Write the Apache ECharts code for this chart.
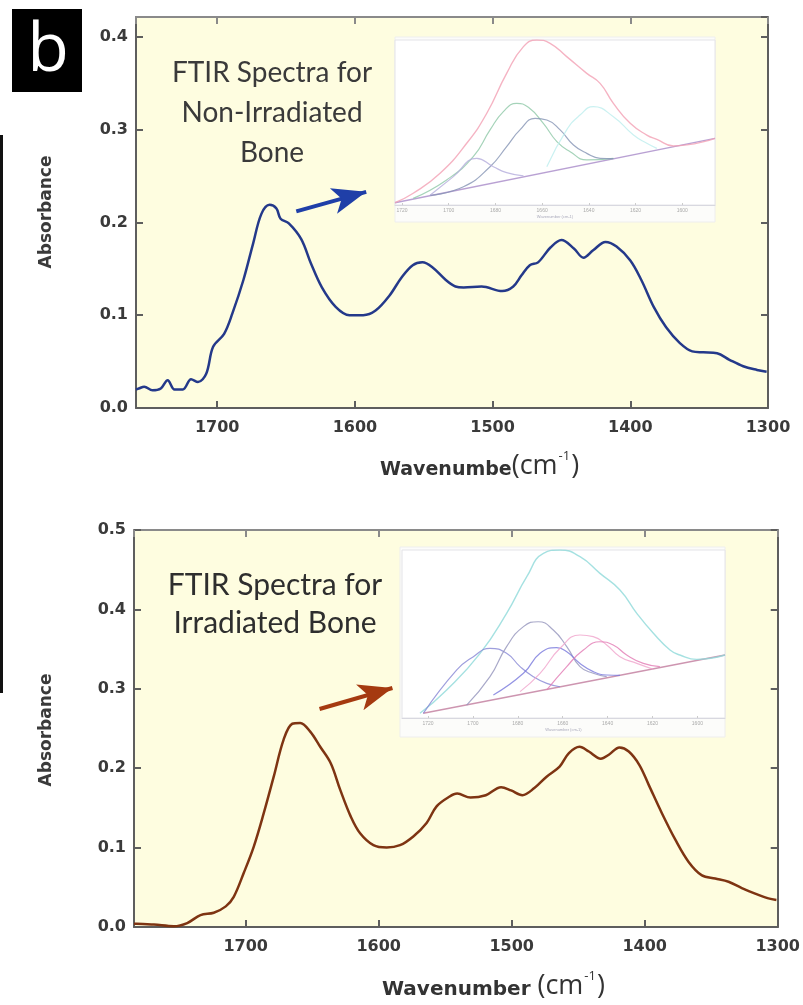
<!DOCTYPE html>
<html>
<head>
<meta charset="utf-8">
<script src="https://cdn.jsdelivr.net/npm/echarts@6/dist/echarts.min.js"></script>
<style>
  html, body { margin: 0; padding: 0; background: #fff; }
  #main { width: 803px; height: 1005px; }
</style>
</head>
<body>
<div id="main"></div>
<script>
// main spectra (wavenumber, absorbance)
const nonIrrWn = [1759, 1757, 1753, 1747, 1741, 1736, 1731, 1725, 1719, 1714, 1708, 1703, 1695, 1689, 1681, 1674, 1668, 1662, 1657, 1654, 1648, 1639, 1632, 1624, 1614, 1604, 1594, 1585, 1575, 1566, 1558, 1551, 1544, 1534, 1527, 1521, 1508, 1493, 1485, 1479, 1473, 1467, 1458, 1450, 1441, 1434, 1427, 1418, 1410, 1400, 1392, 1383, 1374, 1364, 1355, 1347, 1337, 1328, 1318, 1308, 1301];
const nonIrrAbs = [0.020, 0.021, 0.023, 0.019, 0.021, 0.030, 0.020, 0.020, 0.031, 0.028, 0.037, 0.066, 0.080, 0.102, 0.138, 0.177, 0.209, 0.219, 0.215, 0.204, 0.199, 0.182, 0.156, 0.130, 0.109, 0.100, 0.100, 0.105, 0.121, 0.141, 0.154, 0.157, 0.152, 0.138, 0.131, 0.130, 0.131, 0.126, 0.131, 0.143, 0.154, 0.157, 0.173, 0.181, 0.172, 0.162, 0.170, 0.179, 0.174, 0.159, 0.138, 0.109, 0.087, 0.070, 0.061, 0.060, 0.059, 0.052, 0.045, 0.041, 0.039];

const irrWn = [1784, 1782, 1769, 1754, 1744, 1734, 1724, 1715, 1709, 1701.5, 1694, 1686.5, 1679, 1671.5, 1665, 1659, 1651.5, 1644, 1636, 1629, 1621, 1614, 1604, 1594, 1584, 1574, 1564, 1556.5, 1547, 1541, 1531, 1519.5, 1508, 1500.5, 1492, 1483, 1474, 1464, 1457, 1449, 1442, 1433, 1427, 1419, 1412, 1404, 1397, 1387, 1377, 1367, 1357, 1347, 1337, 1327, 1317, 1307, 1301];
const irrAbs = [0.004, 0.004, 0.003, 0.001, 0.005, 0.015, 0.018, 0.026, 0.038, 0.068, 0.101, 0.143, 0.189, 0.236, 0.256, 0.257, 0.246, 0.227, 0.206, 0.173, 0.139, 0.118, 0.103, 0.100, 0.103, 0.114, 0.131, 0.152, 0.164, 0.168, 0.163, 0.166, 0.176, 0.172, 0.166, 0.175, 0.189, 0.202, 0.219, 0.227, 0.221, 0.212, 0.217, 0.226, 0.221, 0.204, 0.179, 0.143, 0.110, 0.082, 0.065, 0.061, 0.057, 0.049, 0.042, 0.036, 0.034];

// inset 1: band fitting of non-irradiated bone (normalised)
const in1Base = [[1723, 0.014], [1586, 0.404]];
const in1Envelope = [[1723, 0.014], [1715.2, 0.071], [1703.7, 0.192], [1692.3, 0.374], [1683.7, 0.556], [1675.2, 0.798], [1668.0, 0.960], [1662.3, 1.0], [1656.6, 0.980], [1649.5, 0.899], [1640.9, 0.798], [1635.2, 0.737], [1629.5, 0.616], [1622.3, 0.495], [1615.2, 0.424], [1610.9, 0.398], [1603.8, 0.358], [1586, 0.404]];
const in1Green = [[1715.2, 0.040], [1700.9, 0.152], [1689.5, 0.293], [1682.3, 0.455], [1676.6, 0.566], [1670.9, 0.616], [1665.9, 0.592], [1659.5, 0.495], [1653.7, 0.384], [1648.0, 0.323], [1640.9, 0.273], [1629.5, 0.283]];
const in1Slate = [[1708, 0.058], [1693.7, 0.111], [1682.3, 0.232], [1675.2, 0.354], [1669.5, 0.455], [1663.0, 0.525], [1658.0, 0.515], [1652.3, 0.455], [1646.6, 0.364], [1640.9, 0.313], [1635.2, 0.283], [1629.5, 0.281]];
const in1Lav = [[1708, 0.059], [1698, 0.172], [1688, 0.283], [1680.9, 0.232], [1675.2, 0.196], [1668, 0.176]];
const in1Cyan = [[1658.0, 0.232], [1649.5, 0.455], [1643.8, 0.545], [1638.1, 0.596], [1629.5, 0.535], [1620.9, 0.424], [1615.2, 0.374], [1610.9, 0.343]];

// inset 2: band fitting of irradiated bone (normalised)
const in2Base = [[1722.1, 0.028], [1587.7, 0.375]];
const in2Envelope = [[1723.6, 0.028], [1711.7, 0.167], [1696.8, 0.385], [1685.0, 0.623], [1676.0, 0.841], [1668.6, 0.980], [1661.2, 1.0], [1652.3, 0.960], [1643.4, 0.861], [1634.5, 0.762], [1627.0, 0.623], [1619.6, 0.504], [1612.2, 0.405], [1607.8, 0.375], [1600.3, 0.349], [1587.7, 0.375]];
const in2Violet = [[1722.1, 0.028], [1707.2, 0.286], [1699.8, 0.365], [1692.4, 0.415], [1685.0, 0.385], [1679.0, 0.306], [1673.1, 0.246], [1667.1, 0.206], [1661.2, 0.186]];
const in2Gray = [[1702.8, 0.077], [1692.4, 0.246], [1685.0, 0.425], [1677.5, 0.544], [1670.9, 0.573], [1664.2, 0.524], [1658.2, 0.425], [1652.3, 0.306], [1646.4, 0.266], [1640.4, 0.246]];
const in2Blue = [[1690.9, 0.137], [1677.5, 0.266], [1670.1, 0.385], [1662.7, 0.419], [1658.2, 0.395], [1652.3, 0.325], [1646.4, 0.276], [1640.4, 0.256], [1634.5, 0.254]];
const in2Pink = [[1679.0, 0.157], [1670.1, 0.266], [1661.2, 0.415], [1652.3, 0.494], [1646.4, 0.484], [1640.4, 0.435], [1634.5, 0.365], [1627.0, 0.325], [1619.6, 0.290]];
const in2Magenta = [[1667.1, 0.167], [1658.2, 0.306], [1650.8, 0.405], [1643.4, 0.454], [1637.5, 0.435], [1631.5, 0.375], [1624.1, 0.325], [1616.7, 0.306]];
const insetTicks = [1720, 1700, 1680, 1660, 1640, 1620, 1600];

const zip = (xs, ys) => xs.map((x, i) => [x, ys[i]]);

let myChart = echarts.init(document.getElementById('main'));

const axisColor = '#5e5e5e';
const labelFont = {fontFamily: 'DejaVu Sans', fontWeight: 'bold', fontSize: 16, color: '#3a3a3a'};

function mainX(gridIndex, max) {
  return [
    {
      type: 'value', gridIndex: gridIndex, min: 1300, max: max, interval: 100, inverse: true,
      axisLine: {onZero: false, lineStyle: {color: axisColor, width: 2}},
      axisTick: {inside: true, length: 7, lineStyle: {color: axisColor, width: 2}},
      axisLabel: Object.assign({margin: 12, formatter: v => (v % 100 === 0 ? String(v) : '')}, labelFont),
      splitLine: {show: false}
    },
    {
      type: 'value', gridIndex: gridIndex, position: 'top', min: 1300, max: max, interval: 100, inverse: true,
      axisLine: {onZero: false, lineStyle: {color: '#8a8a8a', width: 2}},
      axisTick: {inside: true, length: 7, lineStyle: {color: '#8a8a8a', width: 2}},
      axisLabel: {show: false},
      splitLine: {show: false}
    }
  ];
}

function mainY(gridIndex, max) {
  return [
    {
      type: 'value', gridIndex: gridIndex, min: 0, max: max, interval: 0.1,
      axisLine: {show: true, onZero: false, lineStyle: {color: axisColor, width: 2}},
      axisTick: {show: true, inside: true, length: 7, lineStyle: {color: axisColor, width: 2}},
      axisLabel: Object.assign({margin: 8, showMaxLabel: max === 0.5, formatter: v => v.toFixed(1)}, labelFont),
      splitLine: {show: false}
    },
    {
      type: 'value', gridIndex: gridIndex, position: 'right', min: 0, max: max, interval: 0.1,
      axisLine: {show: true, onZero: false, lineStyle: {color: axisColor, width: 2}},
      axisTick: {show: true, inside: true, length: 7, lineStyle: {color: axisColor, width: 2}},
      axisLabel: {show: false},
      splitLine: {show: false}
    }
  ];
}

function insetX(gridIndex, min, max) {
  return {
    type: 'value', gridIndex: gridIndex, min: min, max: max, inverse: true, z: 3,
    axisLine: {onZero: false, lineStyle: {color: '#d8d8e0', width: 1}},
    axisTick: {show: true, inside: true, length: 2, customValues: insetTicks, lineStyle: {color: '#ccc'}},
    axisLabel: {customValues: insetTicks, fontSize: 5, color: '#aaa', margin: 3, formatter: v => String(v)},
    name: 'Wavenumber (cm-1)', nameLocation: 'middle', nameGap: 10,
    nameTextStyle: {fontSize: 4, color: '#aab'},
    splitLine: {show: false}
  };
}

function insetY(gridIndex) {
  return {
    type: 'value', gridIndex: gridIndex, min: 0, max: 1, z: 3,
    axisLine: {show: false}, axisTick: {show: false}, axisLabel: {show: false}, splitLine: {show: false}
  };
}

function thin(name, data, xi, color, width) {
  return {
    name: name, type: 'line', xAxisIndex: xi, yAxisIndex: xi, data: data, z: 4,
    symbol: 'none', smooth: 0.5, lineStyle: {color: color, width: width || 1.2, opacity: 0.8}
  };
}

const option = {
  animation: false,
  backgroundColor: '#ffffff',
  grid: [
    {left: 136, top: 17, width: 632, height: 391, show: true, backgroundColor: '#fefde0', borderWidth: 0},
    {left: 134, top: 530, width: 645, height: 397, show: true, backgroundColor: '#fefde0', borderWidth: 0},
    {left: 395, top: 40, width: 320, height: 165, show: true, backgroundColor: '#ffffff', borderColor: '#e4e4e8', borderWidth: 1, z: 2},
    {left: 402, top: 550, width: 323, height: 168, show: true, backgroundColor: '#ffffff', borderColor: '#e4e4e8', borderWidth: 1, z: 2}
  ],
  xAxis: [
    ...mainX(0, 1759),
    ...mainX(1, 1784),
    insetX(2, 1586, 1723),
    insetX(3, 1587.7, 1731.6)
  ],
  yAxis: [
    ...mainY(0, 0.4215),
    ...mainY(1, 0.5),
    insetY(2),
    insetY(3)
  ],
  graphic: [
    // panel letter
    {type: 'rect', shape: {x: 12, y: 9, width: 70, height: 83}, style: {fill: '#000'}},
    {type: 'text', x: 48, y: 52, style: {text: 'b', fontFamily: 'Open Sans', fontSize: 68, fill: '#fff', align: 'center', verticalAlign: 'middle'}},
    // black bar on the left edge
    {type: 'rect', shape: {x: 0, y: 135, width: 3, height: 558}, style: {fill: '#111'}},
    // inset frames
    {type: 'rect', z: 1, shape: {x: 395, y: 37, width: 320, height: 185}, style: {fill: '#fcfcfa', stroke: '#eeeeee', lineWidth: 1}},
    {type: 'rect', z: 1, shape: {x: 400, y: 547, width: 325, height: 190}, style: {fill: '#fcfcfa', stroke: '#eeeeee', lineWidth: 1}},
    // panel inscriptions
    {type: 'text', x: 272, y: 113, style: {text: 'FTIR Spectra for\nNon-Irradiated\nBone', fontFamily: 'Lato', fontSize: 28, lineHeight: 40, fill: '#3a3a3a', align: 'center', verticalAlign: 'middle'}},
    {type: 'text', x: 275, y: 604, style: {text: 'FTIR Spectra for\nIrradiated Bone', fontFamily: 'Lato', fontSize: 30, lineHeight: 38, fill: '#2e2e2e', align: 'center', verticalAlign: 'middle'}},
    // axis titles
    {type: 'text', x: 47, y: 212, rotation: Math.PI / 2, style: {text: 'Absorbance', fontFamily: 'DejaVu Sans', fontWeight: 'bold', fontSize: 17, fill: '#3a3a3a', align: 'center', verticalAlign: 'middle'}},
    {type: 'text', x: 47, y: 730, rotation: Math.PI / 2, style: {text: 'Absorbance', fontFamily: 'DejaVu Sans', fontWeight: 'bold', fontSize: 17, fill: '#3a3a3a', align: 'center', verticalAlign: 'middle'}},
    {
      type: 'text', x: 380, y: 463,
      style: {
        text: '{b|Wavenumbe}{c|(cm}{s|-1}{c|)}', align: 'left', verticalAlign: 'middle',
        rich: {
          b: {fontFamily: 'DejaVu Sans', fontWeight: 'bold', fontSize: 19, fill: '#333', lineHeight: 34, verticalAlign: 'bottom'},
          c: {fontFamily: 'Open Sans', fontSize: 27, fill: '#333', lineHeight: 34, verticalAlign: 'bottom'},
          s: {fontFamily: 'Open Sans', fontSize: 13, fill: '#333', lineHeight: 34, verticalAlign: 'top', padding: [4, 1, 0, 1]}
        }
      }
    },
    {
      type: 'text', x: 382, y: 983,
      style: {
        text: '{b|Wavenumber }{c|(cm}{s|-1}{c|)}', align: 'left', verticalAlign: 'middle',
        rich: {
          b: {fontFamily: 'DejaVu Sans', fontWeight: 'bold', fontSize: 20, fill: '#333', lineHeight: 34, verticalAlign: 'bottom'},
          c: {fontFamily: 'Open Sans', fontSize: 27, fill: '#333', lineHeight: 34, verticalAlign: 'bottom'},
          s: {fontFamily: 'Open Sans', fontSize: 13, fill: '#333', lineHeight: 34, verticalAlign: 'top', padding: [4, 1, 0, 1]}
        }
      }
    }
  ],
  series: [
    {
      name: 'Non-Irradiated', type: 'line', xAxisIndex: 0, yAxisIndex: 0,
      data: zip(nonIrrWn, nonIrrAbs), symbol: 'none', smooth: 0.35,
      lineStyle: {color: '#24398a', width: 2.5},
      markLine: {
        silent: true, symbol: ['none', 'arrow'], symbolSize: [20, 34], label: {show: false},
        lineStyle: {color: '#1f3fa8', width: 4, type: 'solid'},
        data: [[{coord: [1642.6, 0.212]}, {coord: [1591.8, 0.233]}]]
      }
    },
    {
      name: 'Irradiated', type: 'line', xAxisIndex: 2, yAxisIndex: 2,
      data: zip(irrWn, irrAbs), symbol: 'none', smooth: 0.35,
      lineStyle: {color: '#7e3412', width: 2.5},
      markLine: {
        silent: true, symbol: ['none', 'arrow'], symbolSize: [20, 34], label: {show: false},
        lineStyle: {color: '#a53a10', width: 4, type: 'solid'},
        data: [[{coord: [1644.5, 0.2746]}, {coord: [1589.7, 0.301]}]]
      }
    },
    thin('base1', in1Base, 4, '#a88ac8', 1.4),
    thin('env1', in1Envelope, 4, '#f2a0b4', 1.4),
    thin('green1', in1Green, 4, '#8ec8a8'),
    thin('slate1', in1Slate, 4, '#8494b4'),
    thin('lav1', in1Lav, 4, '#b4acdc'),
    thin('cyan1', in1Cyan, 4, '#bdeeee'),
    thin('base2', in2Base, 5, '#c07a9c', 1.4),
    thin('env2', in2Envelope, 5, '#8fdada', 1.4),
    thin('violet2', in2Violet, 5, '#8686d4'),
    thin('gray2', in2Gray, 5, '#9494bc'),
    thin('blue2', in2Blue, 5, '#7878dc'),
    thin('pink2', in2Pink, 5, '#f0a4cc'),
    thin('magenta2', in2Magenta, 5, '#e27ab4')
  ]
};

option && myChart.setOption(option);
</script>
</body>
</html>
